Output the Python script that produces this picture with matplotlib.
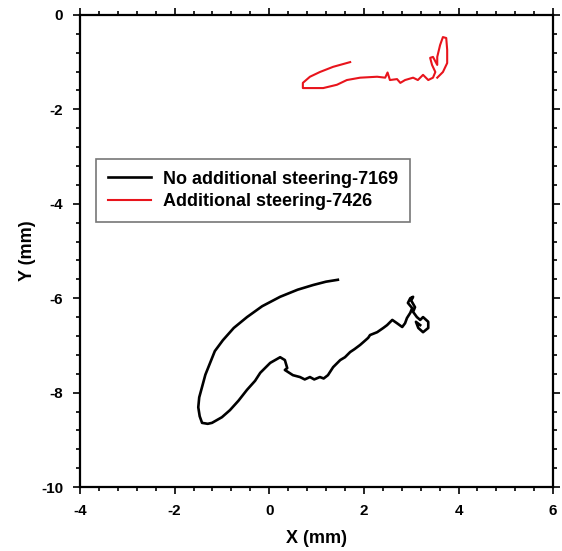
import matplotlib
matplotlib.use("Agg")
import matplotlib.pyplot as plt
from matplotlib.ticker import MultipleLocator

plt.rcParams["font.family"] = ["Liberation Sans", "DejaVu Sans"]
plt.rcParams["axes.unicode_minus"] = False

# black track: no additional steering
x_black = [1.45, 1.20, 0.93, 0.60, 0.23, -0.15, -0.47, -0.75, -0.98, -1.15, -1.25, -1.35,
           -1.42, -1.48, -1.50, -1.47, -1.42, -1.30, -1.21, -1.00, -0.83, -0.65, -0.47,
           -0.30, -0.19, 0.02, 0.23, 0.33, 0.38, 0.33, 0.50, 0.65, 0.75, 0.86, 0.95, 1.07,
           1.15, 1.24, 1.35, 1.50, 1.60, 1.71, 1.80, 1.92, 2.00, 2.09, 2.13, 2.28, 2.41,
           2.49, 2.60, 2.70, 2.81, 2.87, 2.91, 2.98, 3.02, 2.93, 2.98, 3.04, 3.00, 3.08,
           3.04, 3.12, 3.19, 3.25, 3.36, 3.36, 3.25, 3.15, 3.10, 3.19]
y_black = [-5.61, -5.65, -5.72, -5.82, -5.97, -6.17, -6.40, -6.63, -6.89, -7.12, -7.37, -7.62,
           -7.88, -8.10, -8.31, -8.50, -8.64, -8.66, -8.64, -8.52, -8.37, -8.17, -7.94,
           -7.75, -7.58, -7.37, -7.25, -7.31, -7.48, -7.52, -7.63, -7.67, -7.72, -7.67,
           -7.72, -7.67, -7.70, -7.63, -7.46, -7.31, -7.25, -7.14, -7.08, -6.99, -6.92,
           -6.84, -6.78, -6.72, -6.63, -6.57, -6.46, -6.53, -6.61, -6.53, -6.42, -6.31,
           -6.21, -6.10, -6.00, -5.97, -6.05, -6.19, -6.29, -6.40, -6.46, -6.40, -6.50,
           -6.63, -6.72, -6.63, -6.50, -6.57]

# red track: additional steering
x_red = [1.71, 1.35, 1.07, 0.86, 0.71, 0.71, 0.86, 1.14, 1.43, 1.64, 1.92, 2.28, 2.45,
         2.50, 2.55, 2.70, 2.77, 2.87, 3.04, 3.14, 3.25, 3.36, 3.46, 3.51, 3.44, 3.40,
         3.46, 3.55, 3.55, 3.61, 3.67, 3.74, 3.76, 3.76, 3.67, 3.57, 3.55]
y_red = [-1.00, -1.10, -1.21, -1.31, -1.44, -1.55, -1.55, -1.55, -1.48, -1.38, -1.33,
         -1.31, -1.33, -1.22, -1.38, -1.36, -1.44, -1.38, -1.33, -1.38, -1.27, -1.38,
         -1.33, -1.21, -1.06, -0.91, -0.89, -1.06, -0.89, -0.64, -0.47, -0.49, -0.74,
         -1.02, -1.21, -1.31, -1.33]

fig = plt.figure(figsize=(5.62, 5.51), dpi=100)
ax = fig.add_axes([0.1423, 0.116, 0.842, 0.857])

ax.plot(x_black, y_black, color="black", linewidth=1.9, label="No additional steering-7169")
ax.plot(x_red, y_red, color="#e8141c", linewidth=1.5, label="Additional steering-7426")

ax.set_xlim(-4, 6)
ax.set_ylim(-10, 0)
ax.xaxis.set_major_locator(MultipleLocator(2))
ax.yaxis.set_major_locator(MultipleLocator(2))
ax.xaxis.set_minor_locator(MultipleLocator(0.4))
ax.yaxis.set_minor_locator(MultipleLocator(0.4))
ax.tick_params(which="both", direction="out", top=True, right=True, width=1.2)
ax.tick_params(which="major", length=5, pad=7)
ax.tick_params(which="minor", length=3)
ax.tick_params(labeltop=False, labelright=False, labelsize=11)
for lab in ax.get_xticklabels() + ax.get_yticklabels():
    lab.set_fontweight("bold")
for s in ax.spines.values():
    s.set_linewidth(1.6)

ax.set_xlabel("X (mm)", fontsize=13, fontweight="bold", labelpad=9)
ax.set_ylabel("Y (mm)", fontsize=13, fontweight="bold", labelpad=4)

leg = ax.legend(loc="upper left", bbox_to_anchor=(0.034, 0.695), borderaxespad=0,
                fancybox=False, prop={"weight": "bold", "size": 13}, handlelength=2.4,
                handletextpad=0.65, borderpad=0.65, labelspacing=0.3,
                edgecolor="#777777", framealpha=1)
leg.get_frame().set_linewidth(1.2)

plt.savefig("out.png", dpi=100)
